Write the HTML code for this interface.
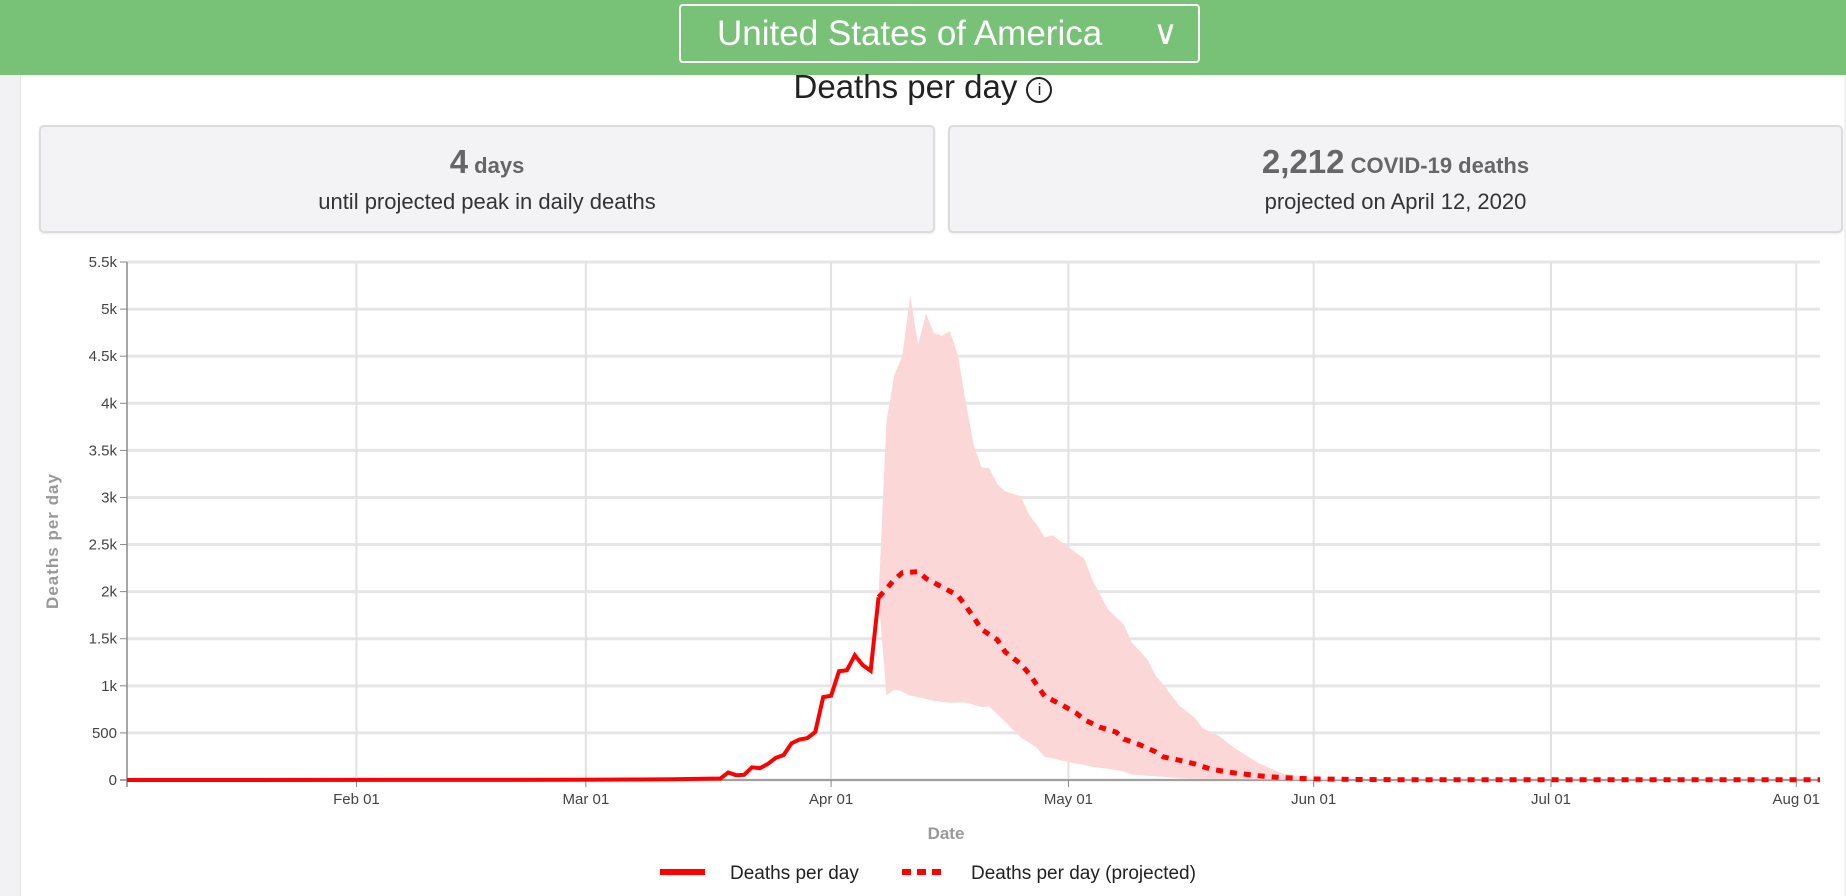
<!DOCTYPE html>
<html><head><meta charset="utf-8"><style>
body{margin:0;width:1846px;height:896px;overflow:hidden;background:#fff;font-family:"Liberation Sans",sans-serif;position:relative}
.hdr{position:absolute;left:0;top:0;width:1846px;height:75px;background:#78c278}
.dd{position:absolute;left:679px;top:4px;width:521px;height:59px;border:2px solid #fff;border-radius:4px;box-sizing:border-box;color:#fff;font-size:35px;line-height:55px;padding-left:36px}
.chev{position:absolute;left:472px;top:0;font-size:34px}
.lstrip{position:absolute;left:0;top:75px;width:20px;height:821px;background:#f2f2f4;border-right:1px solid #e4e4e4}
.rstrip{position:absolute;left:1844px;top:75px;width:2px;height:821px;background:#f2f2f4}
.title{position:absolute;left:0;width:1846px;top:68px;text-align:center;font-size:33px;color:#222}
.card{position:absolute;top:125px;height:108px;background:#f3f3f5;border:2px solid #dcdcdc;border-radius:5px;box-sizing:border-box;text-align:center;color:#333;box-shadow:0 1px 2px rgba(0,0,0,.08)}
.l1{margin-top:16px;color:#666;font-weight:bold;font-size:22px}
.l1 b{font-size:33px}
.l2{margin-top:8px;font-size:22px;color:#333}
</style></head><body>
<div class="hdr"></div>
<div class="dd">United States of America<span class="chev">∨</span></div>
<div class="lstrip"></div>
<div class="rstrip"></div>
<div class="title">Deaths per day <span style="display:inline-block;width:22px;height:22px;border:2px solid #222;border-radius:50%;font-size:17px;line-height:22px;vertical-align:3px;text-align:center">i</span></div>
<div class="card" style="left:39px;width:896px"><div class="l1"><b>4</b> days</div><div class="l2">until projected peak in daily deaths</div></div>
<div class="card" style="left:948px;width:895px"><div class="l1"><b>2,212</b> COVID-19 deaths</div><div class="l2">projected on April 12, 2020</div></div>
<svg id="chart" width="1846" height="896" style="position:absolute;left:0;top:0"></svg>
<script>
const yTicks=[0,500,1000,1500,2000,2500,3000,3500,4000,4500,5000,5500];
const yTickLabels=["0","500","1k","1.5k","2k","2.5k","3k","3.5k","4k","4.5k","5k","5.5k"];
const xTickDates=["2020-02-01","2020-03-01","2020-04-01","2020-05-01","2020-06-01","2020-07-01","2020-08-01"];
const xTickLabels=["Feb 01","Mar 01","Apr 01","May 01","Jun 01","Jul 01","Aug 01"];
const actualDates=["2020-01-03","2020-02-29","2020-03-08","2020-03-12","2020-03-15","2020-03-17","2020-03-18","2020-03-19","2020-03-20","2020-03-21","2020-03-22","2020-03-23","2020-03-24","2020-03-25","2020-03-26","2020-03-27","2020-03-28","2020-03-29","2020-03-30","2020-03-31","2020-04-01","2020-04-02","2020-04-03","2020-04-04","2020-04-05","2020-04-06","2020-04-07"];
const actualValues=[0,2,5,8,12,15,15,80,50,55,135,125,170,235,265,390,430,445,510,880,895,1155,1165,1325,1220,1160,1940];
const projDates=["2020-04-07","2020-04-08","2020-04-09","2020-04-10","2020-04-12","2020-04-13","2020-04-15","2020-04-17","2020-04-18","2020-04-19","2020-04-20","2020-04-22","2020-04-23","2020-04-25","2020-04-26","2020-04-27","2020-04-28","2020-04-30","2020-05-02","2020-05-03","2020-05-05","2020-05-07","2020-05-08","2020-05-10","2020-05-12","2020-05-13","2020-05-15","2020-05-17","2020-05-19","2020-05-22","2020-05-25","2020-05-28","2020-06-01","2020-06-06","2020-06-12","2020-08-04"];
const projValues=[1940,2030,2130,2200,2212,2140,2050,1960,1850,1730,1600,1490,1360,1230,1130,1010,890,805,710,640,560,510,435,375,300,245,210,170,115,75,45,25,12,6,3,3];
const bandDates=["2020-04-07","2020-04-08","2020-04-09","2020-04-10","2020-04-11","2020-04-12","2020-04-13","2020-04-14","2020-04-15","2020-04-16","2020-04-17","2020-04-18","2020-04-19","2020-04-20","2020-04-21","2020-04-22","2020-04-23","2020-04-25","2020-04-26","2020-04-27","2020-04-28","2020-04-29","2020-05-01","2020-05-03","2020-05-04","2020-05-06","2020-05-08","2020-05-09","2020-05-11","2020-05-12","2020-05-13","2020-05-15","2020-05-17","2020-05-18","2020-05-20","2020-05-22","2020-05-25","2020-05-28","2020-06-01","2020-06-05"];
const bandUpper=[1940,3810,4300,4500,5140,4620,4950,4745,4715,4765,4520,4030,3565,3320,3310,3140,3065,3010,2820,2710,2575,2600,2470,2350,2130,1810,1650,1460,1280,1110,1010,790,660,545,470,340,180,70,15,3];
const bandLower=[1940,900,960,940,895,880,860,840,830,820,823,823,800,775,780,700,620,450,400,340,245,230,190,160,140,120,90,60,45,40,35,20,15,12,10,8,5,3,1,0];
const svg=document.getElementById('chart');const NS='http://www.w3.org/2000/svg';
const X0=127,X1=1820,Y0=780,Y1=262;
const d0=Date.parse("2020-01-03"),d1=Date.parse("2020-08-04");
const xs=d=>X0+(Date.parse(d)-d0)/(d1-d0)*(X1-X0);
const ys=v=>Y0-v/5500*(Y0-Y1);
function mk(t,a){const e=document.createElementNS(NS,t);for(const k in a)e.setAttribute(k,a[k]);svg.appendChild(e);return e;}
yTicks.forEach((v,i)=>{
 const g=mk('line',{x1:X0,x2:X1,y1:ys(v),y2:ys(v),stroke:'#e6e6e6','stroke-width':3});
 
 
 mk('line',{x1:X0-7,x2:X0,y1:ys(v),y2:ys(v),stroke:'#888'});
 const t=mk('text',{x:X0-10,y:ys(v)+5,'text-anchor':'end','font-size':15,fill:'#444'});t.textContent=yTickLabels[i];
 
 
});
xTickDates.forEach((d,i)=>{
 const g=mk('line',{x1:xs(d),x2:xs(d),y1:Y1,y2:Y0,stroke:'#e2e2e2','stroke-width':2});
 
 
 mk('line',{x1:xs(d),x2:xs(d),y1:Y0,y2:Y0+7,stroke:'#888'});
 const t=mk('text',{x:xs(d),y:804,'text-anchor':'middle','font-size':15,fill:'#444'});t.textContent=xTickLabels[i];
 
 
});
mk('line',{x1:X0,x2:X0,y1:Y1,y2:Y0+7,stroke:'#888','stroke-width':1.5});
mk('line',{x1:X0-7,x2:X1,y1:Y0,y2:Y0,stroke:'#888','stroke-width':1.5});
mk('line',{x1:X0,x2:X0,y1:Y0,y2:Y0+7,stroke:'#888'});
let bp=bandDates.map((d,i)=>xs(d)+','+ys(bandUpper[i]));
for(let i=bandDates.length-1;i>=0;i--)bp.push(xs(bandDates[i])+','+ys(bandLower[i]));
const band=mk('polygon',{points:bp.join(' '),fill:'#fcd7d8'});


const act=mk('polyline',{points:actualDates.map((d,i)=>xs(d)+','+ys(actualValues[i])).join(' '),fill:'none',stroke:'#f00','stroke-width':4,'stroke-linejoin':'miter'});


const pr=mk('polyline',{points:projDates.map((d,i)=>xs(d)+','+ys(projValues[i])).join(' '),fill:'none',stroke:'#f00','stroke-width':5,'stroke-dasharray':'7,7'});


const xt=mk('text',{x:946,y:839,'text-anchor':'middle','font-size':17,'font-weight':'bold',fill:'#999'});xt.textContent='Date';


const yt=mk('text',{x:0,y:0,transform:'translate(58,541) rotate(-90)','text-anchor':'middle','font-size':17,'font-weight':'bold',fill:'#999','letter-spacing':1});yt.textContent='Deaths per day';


mk('line',{x1:660,x2:705,y1:872,y2:872,stroke:'#f00','stroke-width':6});
const l1=mk('text',{x:730,y:879,'font-size':19,fill:'#222'});l1.textContent='Deaths per day';


mk('line',{x1:902,x2:947,y1:872,y2:872,stroke:'#f00','stroke-width':6,'stroke-dasharray':'9,6'});
const l2=mk('text',{x:971,y:879,'font-size':19,fill:'#222'});l2.textContent='Deaths per day (projected)';


</script>
</body></html>
